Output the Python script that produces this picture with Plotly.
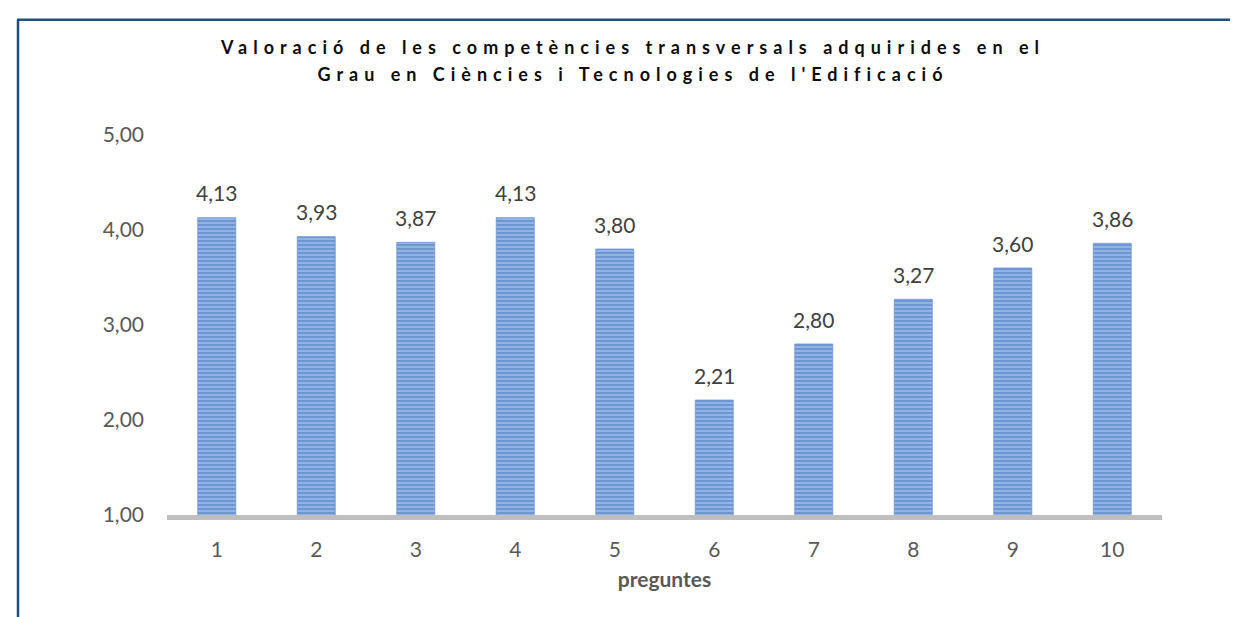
import plotly.graph_objects as go

# ---- data ----
categories = ["1", "2", "3", "4", "5", "6", "7", "8", "9", "10"]
values = [4.13, 3.93, 3.87, 4.13, 3.80, 2.21, 2.80, 3.27, 3.60, 3.86]
y_ticks = [1, 2, 3, 4, 5]
title_lines = [
    "Valoració de les competències transversals adquirides en el",
    "Grau en Ciències i Tecnologies de l'Edificació",
]
x_title = "preguntes"

# ---- layout geometry (pixels) ----
W, H = 1238, 617
ML, MR, MT, MB = 159, 84, 127, 110
PW, PH = W - ML - MR, H - MT - MB

def px_x(x):
    return (x - ML) / PW

def px_y(y):
    return (H - MB - y) / PH

FONT = "Lato, 'Open Sans', sans-serif"
BORDER = "#1f4e84"

fig = go.Figure()
fig.add_trace(go.Bar(
    x=categories,
    y=values,
    marker=dict(
        color="#86a9df",
        line=dict(width=0.8, color="#6f95d2"),
        pattern=dict(shape="-", fgcolor="#4a79c2", bgcolor="#93b3e4",
                     size=4, solidity=0.5),
    ),
    hoverinfo="x+y",
))

# value labels above each bar (category index positions)
for i, v in enumerate(values):
    fig.add_annotation(
        x=i, y=v, xref="x", yref="y",
        text=f"{v:.2f}".replace(".", ","),
        showarrow=False, yshift=25, yanchor="middle",
        font=dict(family=FONT, size=21, color="#404040"),
    )

# frame (left and top edges of the chart box)
fig.add_shape(type="line", xref="paper", yref="paper",
              x0=px_x(10), x1=px_x(10), y0=px_y(11.8), y1=px_y(H + 5),
              line=dict(color=BORDER, width=2.5))
fig.add_shape(type="line", xref="paper", yref="paper",
              x0=px_x(9), x1=px_x(W + 5), y0=px_y(11.8), y1=px_y(11.8),
              line=dict(color=BORDER, width=2.5))

fig.update_layout(
    width=W, height=H,
    margin=dict(l=ML, r=MR, t=MT, b=MB),
    paper_bgcolor="white", plot_bgcolor="white",
    separators=",.",
    showlegend=False,
    bargap=0.618,
    font=dict(family=FONT, size=21, color="#595959"),
    title=dict(
        text="<br>".join(title_lines),
        x=625 / W, xanchor="center",
        y=1 - 46 / H, yanchor="top", yref="container",
        font=dict(family=FONT, size=18, color="#0d0d0d", weight="bold"),
    ),
    xaxis=dict(
        type="category",
        range=[-0.5, len(categories) - 0.5],
        showline=True, linecolor="#bfbfbf", linewidth=4.5,
        showgrid=False, ticks="", ticklabelstandoff=12,
        tickfont=dict(family=FONT, size=21, color="#595959"),
        title=dict(text=x_title, standoff=14,
                   font=dict(family=FONT, size=21, color="#595959", weight="bold")),
    ),
    yaxis=dict(
        range=[1, 5],
        tickvals=y_ticks, tickformat=".2f",
        showline=False, showgrid=False, zeroline=False, ticks="",
        ticklabelstandoff=22,
        tickfont=dict(family=FONT, size=21, color="#595959"),
    ),
)

post = """
var gd = document.getElementById('{plot_id}');
function fixTitle(){
  gd.querySelectorAll('.gtitle').forEach(function(t){
    t.style.letterSpacing = '6px';
    var lines = t.querySelectorAll('tspan.line');
    if (lines.length > 1) { lines[1].setAttribute('dy', '1.5em'); }
  });
}
fixTitle();
gd.on('plotly_afterplot', fixTitle);
"""

fig.write_html("out.html", post_script=post)
